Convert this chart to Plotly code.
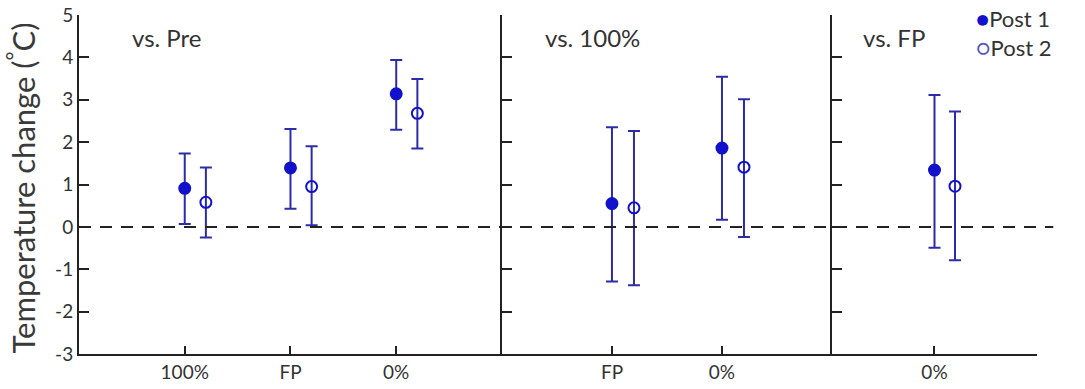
import plotly.graph_objects as go

# ---- data ----
panel_titles = ["vs. Pre", "vs. 100%", "vs. FP"]
panel_categories = [["100%", "FP", "0%"], ["FP", "0%"], ["0%"]]

post1_mean = [[0.91, 1.39, 3.14], [0.55, 1.86], [1.34]]
post1_upper = [[1.73, 2.31, 3.94], [2.35, 3.54], [3.11]]
post1_lower = [[0.07, 0.43, 2.29], [-1.29, 0.17], [-0.49]]

post2_mean = [[0.58, 0.95, 2.68], [0.45, 1.41], [0.96]]
post2_upper = [[1.40, 1.90, 3.49], [2.26, 3.01], [2.72]]
post2_lower = [[-0.25, 0.04, 1.85], [-1.38, -0.24], [-0.79]]

y_ticks = [-3, -2, -1, 0, 1, 2, 3, 4, 5]
y_ticktext = ["-3", "-2", "-1", "0", "1", "2", "3", "4", "5"]
series_names = ["Post 1", "Post 2"]
y_title = "Temperature change (<sup>°</sup>C)"

# ---- style ----
FONT = "Lato, 'Open Sans', sans-serif"
TXT = "#333333"
MARK_BLUE = "#1212cc"
BAR_BLUE = "#2c2ca8"
AXIS = "#222222"
offset = 0.2
x_ranges = [[0, 4], [0, 3], [0, 2]]
domains = [[0.0, 0.4415], [0.4415, 0.786], [0.786, 1.0]]

fig = go.Figure()

for i in range(3):
    xa = "x" if i == 0 else f"x{i+1}"
    ya = "y" if i == 0 else f"y{i+1}"
    pos = list(range(1, len(panel_categories[i]) + 1))
    for s, (m, up, lo, sym) in enumerate([
        (post1_mean[i], post1_upper[i], post1_lower[i], "circle"),
        (post2_mean[i], post2_upper[i], post2_lower[i], "circle-open"),
    ]):
        xs = [p + s * offset for p in pos]
        fig.add_trace(go.Scatter(
            x=xs, y=m, xaxis=xa, yaxis=ya, mode="markers",
            name=series_names[s], showlegend=False,
            marker=dict(symbol=sym, size=11, color=MARK_BLUE,
                        line=dict(width=2, color=MARK_BLUE)),
            error_y=dict(type="data", symmetric=False,
                         array=[u - v for u, v in zip(up, m)],
                         arrayminus=[v - l for v, l in zip(m, lo)],
                         color=BAR_BLUE, thickness=2, width=6),
        ))

layout = dict(
    width=1085, height=389,
    margin=dict(l=79, r=48, t=15, b=35),
    paper_bgcolor="white", plot_bgcolor="white",
    font=dict(family=FONT, color=TXT, size=17),
    showlegend=False,
)

for i in range(3):
    xk = "xaxis" if i == 0 else f"xaxis{i+1}"
    yk = "yaxis" if i == 0 else f"yaxis{i+1}"
    cats = panel_categories[i]
    tv = list(range(1, len(cats) + 1))
    ax = dict(
        domain=domains[i], range=x_ranges[i], anchor="y" if i == 0 else f"y{i+1}",
        tickmode="array", tickvals=tv, ticktext=list(cats),
        ticks="inside", ticklen=8, tickwidth=2, tickcolor=AXIS,
        showline=True, linecolor=AXIS, linewidth=2,
        showgrid=False, zeroline=False, automargin=False,
        tickfont=dict(size=19, color=TXT),
    )
    if i == 2:
        # end-of-axis tick mark as in the reference
        ax["minor"] = dict(tickmode="array", tickvals=[x_ranges[i][1]], ticks="inside",
                           ticklen=8, tickwidth=2, tickcolor=AXIS, showgrid=False)
    layout[xk] = ax
    layout[yk] = dict(
        range=[-3, 5], anchor="x" if i == 0 else f"x{i+1}",
        tickmode="array", tickvals=y_ticks, ticktext=y_ticktext,
        showticklabels=(i == 0),
        ticks="inside", ticklen=10, tickwidth=2, tickcolor=AXIS,
        showline=True, linecolor=AXIS, linewidth=2,
        showgrid=False, zeroline=False, automargin=False,
        tickfont=dict(size=19, color=TXT),
    )

fig.update_layout(**layout)

# y-axis title
fig.add_annotation(text=y_title, xref="paper", yref="paper", x=-0.06, y=0.49,
                   xanchor="center", yanchor="middle", textangle=-90, showarrow=False,
                   font=dict(size=31, color="#3a3a3a"))

# zero reference line
fig.add_shape(type="line", xref="paper", yref="y", x0=0, x1=1.017, y0=0, y1=0,
              line=dict(color="#222222", width=2, dash="12px,9px"))

# panel titles
title_x = [0.0532, 0.484, 0.816]
for i, t in enumerate(panel_titles):
    fig.add_annotation(text=t, xref="paper", yref="paper", x=title_x[i], y=0.935,
                       xanchor="left", yanchor="middle", showarrow=False,
                       font=dict(size=24, color=TXT))

# legend (text-based, placed like the reference)
legend_text = (f"<span style='color:{MARK_BLUE}'>●</span>{series_names[0]}<br>"
               f"<span style='color:#5555bb'>○</span>{series_names[1]}")
fig.add_annotation(text=legend_text, xref="paper", yref="paper", x=0.934, y=1.035,
                   xanchor="left", yanchor="top", align="left", showarrow=False,
                   font=dict(size=22, color=TXT))

# remove the default 8px page margin so the figure fills the window exactly
fig.write_html("out.html", config={"displayModeBar": False},
               post_script="document.body.style.margin='0';document.body.style.overflow='hidden';")
